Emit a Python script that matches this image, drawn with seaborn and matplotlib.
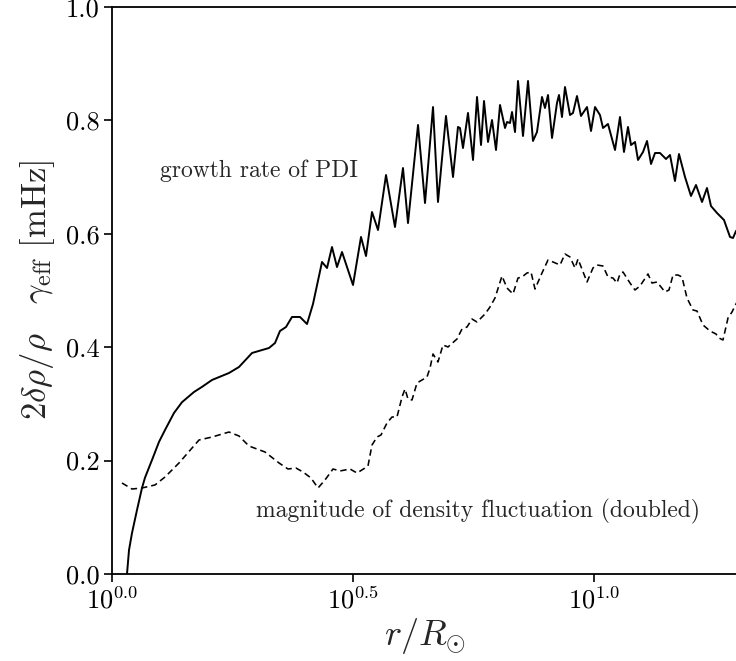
import numpy as np
import pandas as pd
import matplotlib
matplotlib.use("Agg")
import matplotlib.pyplot as plt
import seaborn as sns
from matplotlib.ticker import FixedLocator, FixedFormatter, NullLocator

# ---------------- data ----------------
# growth rate of PDI: log10(r/Rsun) and gamma_eff [mHz]
growth_log_r = [0.0311, 0.0353, 0.0415, 0.0519, 0.0622, 0.0685, 0.0830, 0.0975, 0.1100, 0.1286,
                0.1452, 0.1701, 0.1867, 0.2075, 0.2427, 0.2635, 0.2905,
                0.3257, 0.3382, 0.3485, 0.3610, 0.3734, 0.3900, 0.4046, 0.4170, 0.4357, 0.4461,
                0.4564, 0.4668, 0.4772, 0.5000, 0.5166, 0.5270, 0.5394, 0.5519, 0.5685, 0.5871,
                0.6037, 0.6141, 0.6349, 0.6494, 0.6660, 0.6763, 0.6929, 0.7075, 0.7178, 0.7220,
                0.7282, 0.7386, 0.7490, 0.7573, 0.7656, 0.7718, 0.7801, 0.7884, 0.7967, 0.8050,
                0.8154, 0.8195, 0.8257, 0.8299, 0.8361, 0.8423, 0.8527, 0.8631, 0.8734, 0.8817,
                0.8921, 0.8983, 0.9046, 0.9129, 0.9232, 0.9274, 0.9336, 0.9398, 0.9502, 0.9564,
                0.9647, 0.9730, 0.9855, 0.9938, 1.0021, 1.0124, 1.0187, 1.0290, 1.0436, 1.0539,
                1.0622, 1.0705, 1.0768, 1.0851, 1.0913, 1.1017, 1.1100, 1.1183, 1.1266, 1.1369,
                1.1494, 1.1577, 1.1680, 1.1763, 1.1888, 1.2012, 1.2116, 1.2241, 1.2344, 1.2427,
                1.2552, 1.2697, 1.2822, 1.2884, 1.2946, 1.3133]
growth_rate = [0.000, 0.0423, 0.0723, 0.1130, 0.1517, 0.1700, 0.2011, 0.2330, 0.2540, 0.2840,
               0.3030, 0.3210, 0.3300, 0.3422, 0.3545, 0.3651, 0.3898,
               0.3986, 0.4074, 0.4286, 0.4356, 0.4533, 0.4533, 0.4409, 0.4762, 0.5503, 0.5397,
               0.5767, 0.5414, 0.5679, 0.5097, 0.5944, 0.5608, 0.6384, 0.6067, 0.7037, 0.6120,
               0.7160, 0.6190, 0.7919, 0.6543, 0.8236, 0.6561, 0.8078, 0.7002, 0.7884, 0.7866,
               0.7513, 0.8131, 0.7302, 0.8413, 0.7566, 0.8342, 0.7619, 0.8007, 0.7478, 0.8272,
               0.7866, 0.7972, 0.7954, 0.8148, 0.7795, 0.8695, 0.7725, 0.8695, 0.7637, 0.7795,
               0.8413, 0.8219, 0.8448, 0.7690, 0.8307, 0.8448, 0.8060, 0.8589, 0.8095, 0.8131,
               0.8430, 0.8078, 0.8236, 0.7813, 0.8236, 0.8095, 0.7866, 0.7937, 0.7478, 0.8060,
               0.7443, 0.7884, 0.7566, 0.7619, 0.7302, 0.7443, 0.7637, 0.7231, 0.7425, 0.7425,
               0.7319, 0.7390, 0.6931, 0.7407, 0.7002, 0.6667, 0.6861, 0.6561, 0.6808, 0.6490,
               0.6367, 0.6243, 0.5944, 0.5926, 0.6049, 0.6200]

# magnitude of density fluctuation (doubled): log10(r/Rsun) and 2 delta rho / rho
dens_log_r = [0.0207, 0.0415, 0.0622, 0.0892, 0.1100, 0.1390, 0.1805, 0.2075, 0.2427, 0.2635,
              0.2842, 0.3174, 0.3465, 0.3651, 0.3817, 0.3963, 0.4129, 0.4274, 0.4419, 0.4585,
              0.4730, 0.4938, 0.5083, 0.5249, 0.5311, 0.5394, 0.5498, 0.5581, 0.5705, 0.5809,
              0.5913, 0.6017, 0.6079, 0.6141, 0.6224, 0.6328, 0.6535, 0.6598, 0.6660, 0.6763,
              0.6867, 0.6971, 0.7158, 0.7261, 0.7365, 0.7469, 0.7573, 0.7739, 0.7842, 0.7946,
              0.8091, 0.8195, 0.8320, 0.8423, 0.8506, 0.8610, 0.8693, 0.8776, 0.8921, 0.9046,
              0.9149, 0.9295, 0.9398, 0.9502, 0.9606, 0.9668, 0.9855, 0.9979, 1.0062, 1.0187,
              1.0290, 1.0394, 1.0477, 1.0539, 1.0602, 1.0747, 1.0851, 1.0954, 1.1120, 1.1203,
              1.1307, 1.1473, 1.1556, 1.1639, 1.1743, 1.1826, 1.1929, 1.2054, 1.2137, 1.2261,
              1.2407, 1.2531, 1.2593, 1.2676, 1.2780, 1.2863, 1.2967, 1.3100]
dens_fluct = [0.1605, 0.1499, 0.1517, 0.1570, 0.1711, 0.1958, 0.2363, 0.2416, 0.2504, 0.2434,
              0.2257, 0.2152, 0.1958, 0.1852, 0.1869, 0.1799, 0.1693, 0.1517, 0.1658, 0.1852,
              0.1817, 0.1852, 0.1781, 0.1869, 0.1905, 0.2275, 0.2416, 0.2452, 0.2663, 0.2769,
              0.2769, 0.3122, 0.3263, 0.3086, 0.3069, 0.3369, 0.3474, 0.3633, 0.3880, 0.3739,
              0.4039, 0.4004, 0.4145, 0.4321, 0.4356, 0.4497, 0.4444, 0.4586, 0.4709, 0.4868,
              0.5256, 0.5044, 0.4938, 0.5220, 0.5238, 0.5309, 0.5326, 0.5026, 0.5309, 0.5538,
              0.5503, 0.5450, 0.5644, 0.5591, 0.5397, 0.5556, 0.5150, 0.5397, 0.5450, 0.5432,
              0.5238, 0.5220, 0.5132, 0.5291, 0.5326, 0.5132, 0.5009, 0.5079, 0.5291, 0.5132,
              0.5150, 0.4974, 0.5009, 0.5273, 0.5273, 0.5238, 0.4868, 0.4656, 0.4638, 0.4392,
              0.4286, 0.4233, 0.4162, 0.4127, 0.4515, 0.4621, 0.4797, 0.5000]

x_tick_values = [1.0, 10 ** 0.5, 10.0]
x_tick_labels = [r"$10^{0.0}$", r"$10^{0.5}$", r"$10^{1.0}$"]
y_tick_values = [0.0, 0.2, 0.4, 0.6, 0.8, 1.0]
y_tick_labels = ["0.0", "0.2", "0.4", "0.6", "0.8", "1.0"]

# ---------------- style ----------------
sns.set_theme(style="ticks")
plt.rcParams.update({
    "font.family": ["serif"],
    "font.serif": ["cmr10", "DejaVu Serif"],
    "mathtext.fontset": "cm",
    "axes.formatter.use_mathtext": True,
    "axes.unicode_minus": False,
    "axes.edgecolor": "black",
    "axes.linewidth": 1.3,
    "xtick.color": "black",
    "ytick.color": "black",
    "xtick.direction": "out",
    "ytick.direction": "out",
    "xtick.major.size": 6,
    "ytick.major.size": 6,
    "xtick.major.width": 1.2,
    "ytick.major.width": 1.2,
    "lines.solid_joinstyle": "round",
    "lines.dash_joinstyle": "round",
})

df_growth = pd.DataFrame({"r": 10 ** np.array(growth_log_r), "v": growth_rate})
df_dens = pd.DataFrame({"r": 10 ** np.array(dens_log_r), "v": dens_fluct})

fig = plt.figure(figsize=(7.36, 6.61), dpi=100)
ax = fig.add_axes([112 / 736, 1 - 574 / 661, 626.6 / 736, 567 / 661])
ax.set_xscale("log")

sns.lineplot(data=df_growth, x="r", y="v", ax=ax, color="black", linewidth=1.4,
             sort=False, estimator=None)
sns.lineplot(data=df_dens, x="r", y="v", ax=ax, color="black", linewidth=1.15,
             linestyle=(0, (4, 2.5)), sort=False, estimator=None)

ax.set_xlim(1.0, 10 ** 1.3)
ax.set_ylim(0.0, 1.0)
ax.xaxis.set_major_locator(FixedLocator(x_tick_values))
ax.xaxis.set_major_formatter(FixedFormatter(x_tick_labels))
ax.xaxis.set_minor_locator(NullLocator())
ax.yaxis.set_major_locator(FixedLocator(y_tick_values))
ax.yaxis.set_major_formatter(FixedFormatter(y_tick_labels))
ax.tick_params(axis="both", labelsize=19, pad=3)

ax.spines["right"].set_visible(True)
ax.set_xlabel(r"$r/R_{\odot}$", fontsize=26, labelpad=2)
ax.set_ylabel(r"$2\delta\rho/\rho\quad\gamma_{\rm eff}\ [{\rm mHz}]$", fontsize=25, labelpad=6)

ax.text(10 ** 0.0996, 0.712, "growth rate of PDI", fontsize=17, ha="left", va="center")
ax.text(10 ** 0.2988, 0.111, "magnitude of density fluctuation (doubled)", fontsize=17,
        ha="left", va="center")

fig.savefig("out.png", dpi=100)
